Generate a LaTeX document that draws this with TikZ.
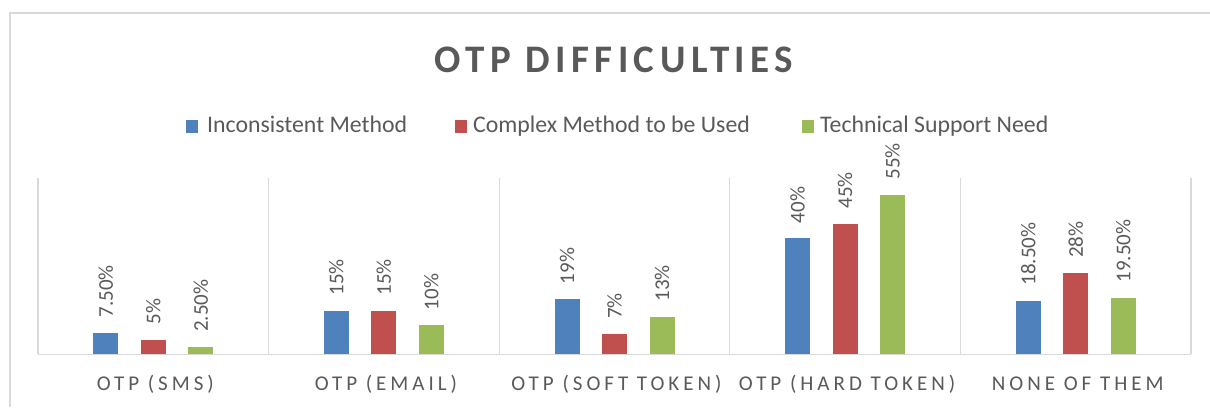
\documentclass[tikz,border=0pt]{standalone}
\usepackage{fontspec}
\setmainfont{Carlito}
\newfontfamily\titlefont[LetterSpace=14]{Carlito}
\newfontfamily\catfont[LetterSpace=19]{Carlito}
\definecolor{cblue}{HTML}{4F81BD}
\definecolor{cred}{HTML}{C0504D}
\definecolor{cgreen}{HTML}{9BBB59}
\definecolor{txtgray}{HTML}{595959}
\definecolor{gridgray}{HTML}{D9D9D9}
\tikzset{
  frame/.style={draw=gridgray, line width=1.2pt},
  gridline/.style={draw=gridgray, line width=1.2pt},
  titletext/.style={inner sep=0, text=txtgray, font=\titlefont\bfseries\fontsize{39}{39}\selectfont},
  legtext/.style={inner sep=0, anchor=base west, text=txtgray, font=\fontsize{23.8}{24}\selectfont},
  cattext/.style={inner sep=0, anchor=base, text=txtgray, font=\catfont\fontsize{21}{21}\selectfont},
  vallabel/.style={inner sep=0, rotate=90, anchor=west, text=txtgray, font=\fontsize{21}{21}\selectfont},
  legsq/.style={minimum size=12.5pt, inner sep=0, draw=none},
  bar/.style={draw=white, line width=0.4pt}
}
\begin{document}
\begin{tikzpicture}[x=1pt, y=-1pt]
\useasboundingbox (0,0) rectangle (1210,407);
% outer chart frame (top and left edges visible)
\coordinate (fTL) at (10,13);
\coordinate (fTR) at (1210,13);
\coordinate (fBL) at (10,407);
\draw[frame] (fTR) -- (fTL) -- (fBL);
% title
\node[titletext, anchor=base] (title) at (614,72) {OTP DIFFICULTIES};
% legend
\node[legsq, fill=cblue] (sq1) at (192,126.5) {};
\node[legtext] (leg1) at (207,132) {Inconsistent Method};
\node[legsq, fill=cred] (sq2) at (461,126.5) {};
\node[legtext] (leg2) at (473,132) {Complex Method to be Used};
\node[legsq, fill=cgreen] (sq3) at (808,126.5) {};
\node[legtext] (leg3) at (820,132) {Technical Support Need};
% category separators and baseline
\def\base{354.3}
\def\gtop{178}
\foreach \k in {0,...,5} {
  \pgfmathsetmacro{\gx}{38+230.6*\k}
  \coordinate (gt\k) at (\gx,\gtop);
  \coordinate (gb\k) at (\gx,\base);
  \draw[gridline] (gt\k) -- (gb\k);
}
\draw[gridline] (gb0) -- (gb5);
% bars and labels
\foreach \c/\cat/\va/\vb/\vc/\la/\lb/\lc in {
  0/OTP (SMS)/7.5/5/2.5/7.50\%/5\%/2.50\%,
  1/OTP (EMAIL)/15/15/10/15\%/15\%/10\%,
  2/OTP (SOFT TOKEN)/19/7/13/19\%/7\%/13\%,
  3/OTP (HARD TOKEN)/40/45/55/40\%/45\%/55\%,
  4/NONE OF THEM/18.5/28/19.5/18.50\%/28\%/19.50\%} {
  \pgfmathsetmacro{\cx}{38+230.6*(\c+0.5)}
  \foreach \s/\v/\l/\col in {-1/\va/\la/cblue, 0/\vb/\lb/cred, 1/\vc/\lc/cgreen} {
    \pgfmathsetmacro{\bx}{\cx+47.5*\s}
    \pgfmathsetmacro{\ty}{\base-2.9*\v}
    \fill[\col] (\bx-12.5,\base) rectangle (\bx+12.5,\ty);
    \node[vallabel] (lab\c\s) at (\bx,\ty-15) {\l};
  }
  \node[cattext] (cat\c) at (\cx+2,390) {\cat};
}
\end{tikzpicture}
\end{document}
